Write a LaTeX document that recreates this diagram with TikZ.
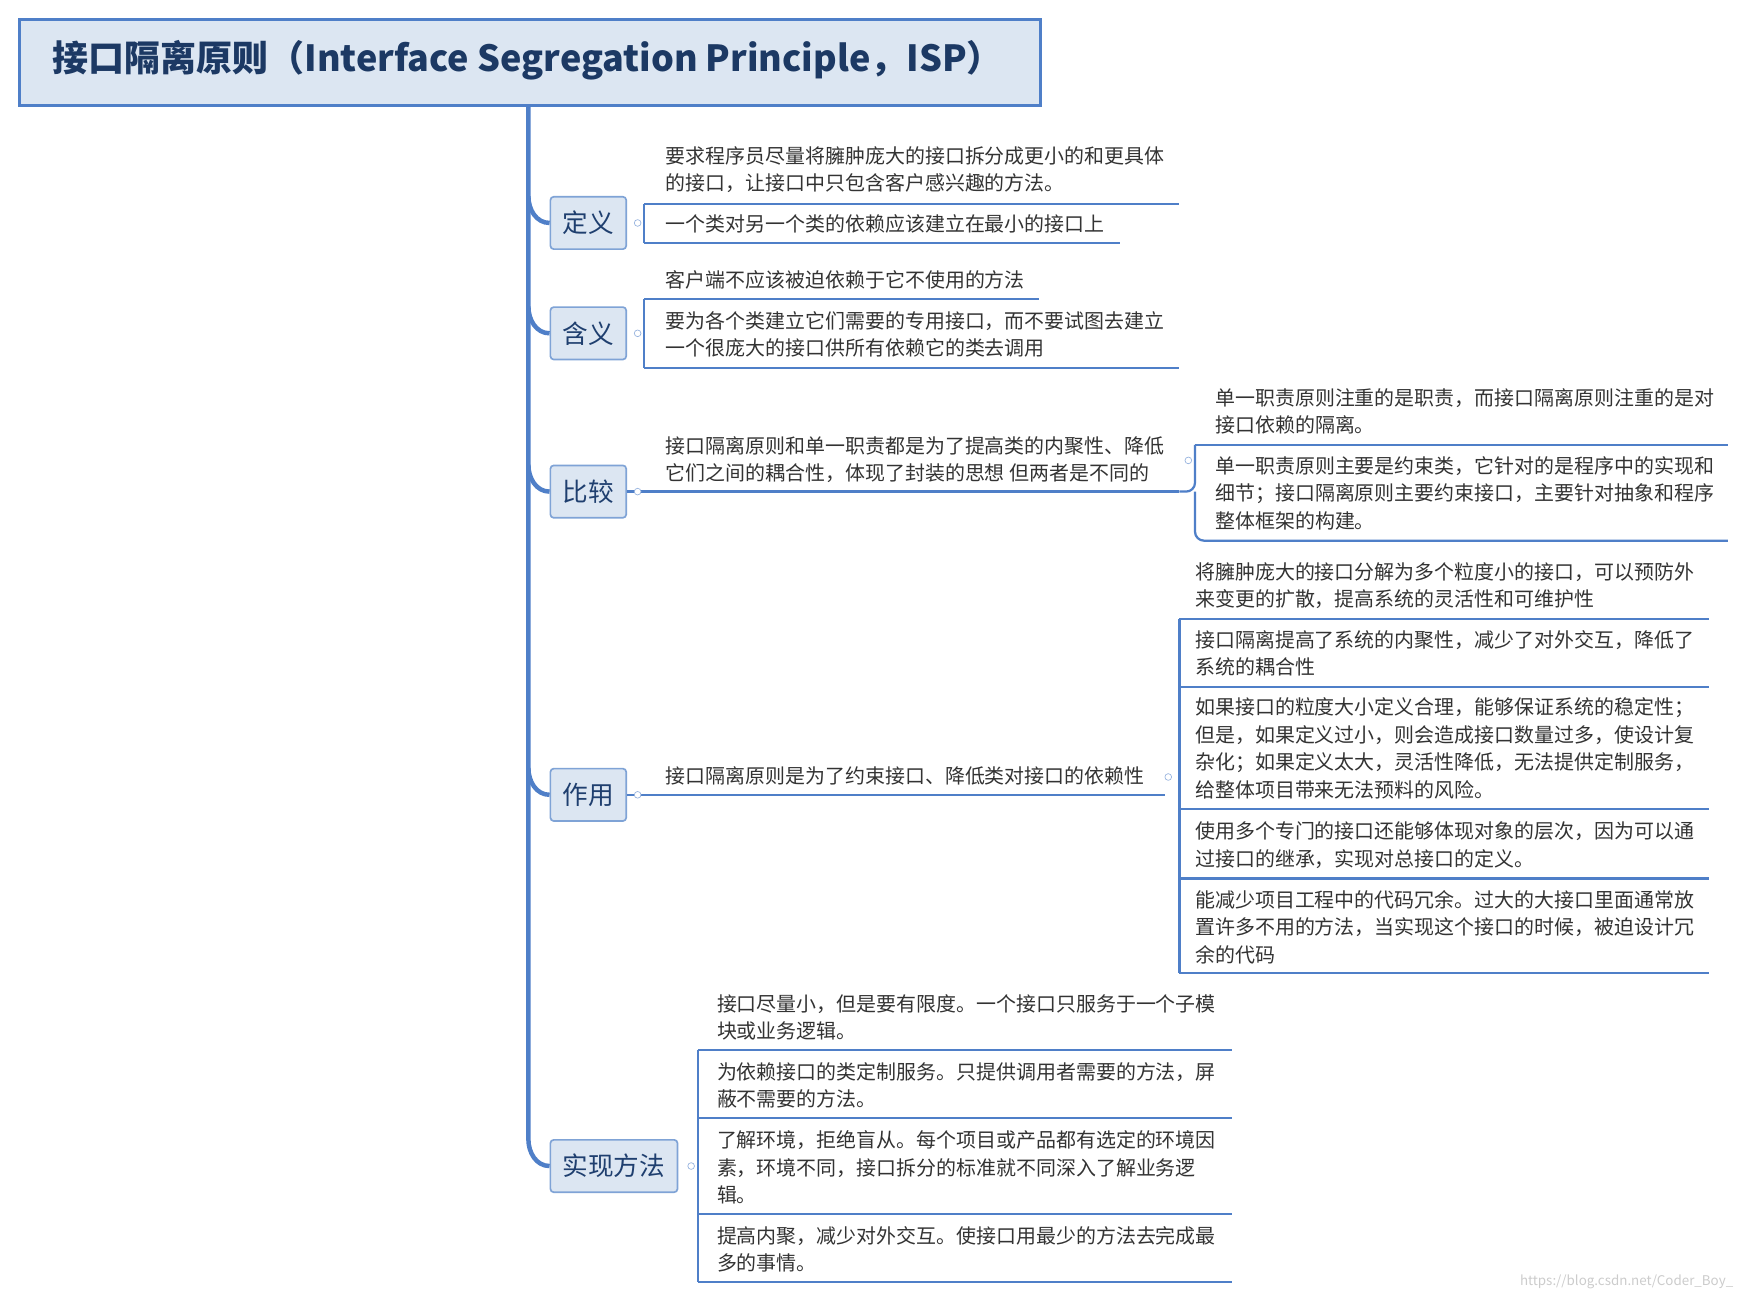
\documentclass[tikz,border=0pt]{standalone}
\usepackage{fontspec}
\usetikzlibrary{calc}
\setmainfont{Noto Sans CJK SC}
\begin{document}
\begin{tikzpicture}[x=1pt,y=-1pt,
  ln/.style={draw=lnc,line width=2pt},
  main/.style={draw=lnc,line width=4pt},
  topic/.style={draw=bdc,fill=boxc,line width=1.5pt,rounded corners=3pt,font=\fontsize{23}{26}\selectfont,text=ttc,minimum height=47pt,inner xsep=11pt},
  txt/.style={anchor=base west,align=left,inner sep=0pt,font=\fontsize{17.9}{24.6}\selectfont,text=txc},
  dot/.style={circle,draw=lnc!60,line width=0.6pt,inner sep=0pt,minimum size=6pt,fill=white}]
\definecolor{lnc}{HTML}{4F7FC8}
\definecolor{bdc}{HTML}{7FA3D6}
\definecolor{boxc}{HTML}{DCE6F2}
\definecolor{ttc}{HTML}{1F3F6F}
\definecolor{txc}{HTML}{333333}
\useasboundingbox (0,0) rectangle (1560,1160);
\fill[white] (0,0) rectangle (1560,1160);
% title
\node[draw=lnc,fill=boxc,line width=3pt,minimum width=916pt,minimum height=77pt,anchor=north west] (title) at (16,16) {};
\node[anchor=west,inner sep=0pt,font=\fontsize{32.3}{36}\bfseries\selectfont,text=ttc!90!black] (tt) at (47,54) {接口隔离原则（Interface Segregation Principle，ISP）};
% topics
\node[topic,anchor=west] (def) at (493,200) {定义};
\node[topic,anchor=west] (han) at (493,299) {含义};
\node[topic,anchor=west] (cmp) at (493,441) {比较};
\node[topic,anchor=west] (use) at (493,713) {作用};
\node[topic,anchor=west] (imp) at (493,1046) {实现方法};
\coordinate (top) at (474,95);
\draw[main] (top) -- (474,1022) to[out=-90,in=180] (imp.west);
\foreach \n in {def,han,cmp,use}{
  \draw[main] ($(\n.west)+(-19,-24)$) to[out=-90,in=180] (\n.west);
}
% 定义
\draw[ln] (578,183) -- (1058,183);
\draw[ln] (578,218) -- (1005,218);
\draw[ln] (578,183) -- (578,218);
\node[dot] (d1) at (572,200) {};
\node[txt] at (597,171) {要求程序员尽量将臃肿庞大的接口拆分成更小的和更具体\\的接口，让接口中只包含客户感兴趣的方法。};
\node[txt] at (597,208) {一个类对另一个类的依赖应该建立在最小的接口上};
% 含义
\draw[ln] (578,268) -- (932,268);
\draw[ln] (578,330) -- (1058,330);
\draw[ln] (578,268) -- (578,330);
\node[dot] (d2) at (572,299) {};
\node[txt] at (597,258) {客户端不应该被迫依赖于它不使用的方法};
\node[txt] at (597,319) {要为各个类建立它们需要的专用接口，而不要试图去建立\\一个很庞大的接口供所有依赖它的类去调用};
% 比较
\draw[ln] (cmp.east) -- (1058,441);
\node[dot] (d3) at (572,441) {};
\node[txt] at (597,431) {接口隔离原则和单一职责都是为了提高类的内聚性、降低\\它们之间的耦合性，体现了封装的思想 但两者是不同的};
\node[dot] (d4) at (1066,413) {};
\draw[ln,rounded corners=8pt] (1058,441) -- (1072,441) -- (1072,399);
\draw[ln,rounded corners=8pt] (1072,441) -- (1072,485) -- (1550,485);
\draw[ln] (1072,399) -- (1550,399);
\node[txt] at (1090,388) {单一职责原则注重的是职责，而接口隔离原则注重的是对\\接口依赖的隔离。};
\node[txt] at (1090,474) {单一职责原则主要是约束类，它针对的是程序中的实现和\\细节；接口隔离原则主要约束接口，主要针对抽象和程序\\整体框架的构建。};
% 作用
\draw[ln] (use.east) -- (1045,713);
\node[dot] (d5) at (572,713) {};
\node[txt] at (597,703) {接口隔离原则是为了约束接口、降低类对接口的依赖性};
\node[dot] (d6) at (1048,697) {};
\draw[ln] (1058,555) -- (1058,873);
\foreach \yy in {555,616,726,788,873}{\draw[ln] (1058,\yy) -- (1533,\yy);}
\node[txt] at (1072,544) {将臃肿庞大的接口分解为多个粒度小的接口，可以预防外\\来变更的扩散，提高系统的灵活性和可维护性};
\node[txt] at (1072,605) {接口隔离提高了系统的内聚性，减少了对外交互，降低了\\系统的耦合性};
\node[txt] at (1072,715) {如果接口的粒度大小定义合理，能够保证系统的稳定性；\\但是，如果定义过小，则会造成接口数量过多，使设计复\\杂化；如果定义太大，灵活性降低，无法提供定制服务，\\给整体项目带来无法预料的风险。};
\node[txt] at (1072,777) {使用多个专门的接口还能够体现对象的层次，因为可以通\\过接口的继承，实现对总接口的定义。};
\node[txt] at (1072,863) {能减少项目工程中的代码冗余。过大的大接口里面通常放\\置许多不用的方法，当实现这个接口的时候，被迫设计冗\\余的代码};
% 实现方法
\node[dot] (d7) at (620,1046) {};
\draw[ln] (626,942) -- (626,1150);
\foreach \yy in {942,1003,1089,1150}{\draw[ln] (626,\yy) -- (1105,\yy);}
\node[txt] at (643,932) {接口尽量小，但是要有限度。一个接口只服务于一个子模\\块或业务逻辑。};
\node[txt] at (643,993) {为依赖接口的类定制服务。只提供调用者需要的方法，屏\\蔽不需要的方法。};
\node[txt] at (643,1079) {了解环境，拒绝盲从。每个项目或产品都有选定的环境因\\素，环境不同，接口拆分的标准就不同深入了解业务逻\\辑。};
\node[txt] at (643,1140) {提高内聚，减少对外交互。使接口用最少的方法去完成最\\多的事情。};
\node[anchor=east,inner sep=0pt,font=\fontsize{12}{14}\selectfont,text=black!20] (wm) at (1555,1150) {https://blog.csdn.net/Coder\_Boy\_};
\end{tikzpicture}
\end{document}
